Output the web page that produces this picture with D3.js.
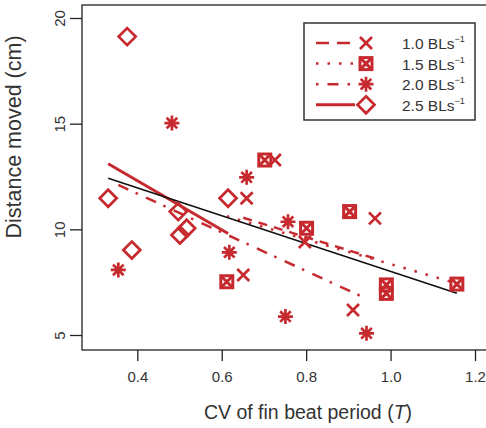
<!DOCTYPE html>
<html>
  <head>
    <script src="https://d3js.org/d3.v7.min.js" charset="utf-8"></script>
    <meta charset="UTF-8">
    <title>fin beat CV vs distance</title>
    <style>
      body { margin: 0; background: #fff; }
      text { font-family: "Liberation Sans", Arial, sans-serif; fill: #333; }
    </style>
  </head>
  <body>
    <svg class="chart"></svg>
    <script type="text/javascript">

     var width = 486,
         height = 428,
         red = "#c62a2f";

     // points, one array per swimming speed
     var speeds = ["1.0", "1.5", "2.0", "2.5"];
     var pts10 = [[0.726, 13.28], [0.659, 11.47], [0.963, 10.52], [0.797, 9.40], [0.651, 7.84], [0.911, 6.18]];
     var pts15 = [[0.702, 13.28], [0.903, 10.84], [0.801, 10.05], [0.612, 7.52], [0.990, 7.37], [0.990, 6.97], [1.157, 7.41]];
     var pts20 = [[0.482, 15.03], [0.355, 8.08], [0.659, 12.46], [0.618, 8.91], [0.757, 10.36], [0.751, 5.87], [0.943, 5.08]];
     var pts25 = [[0.376, 19.12], [0.331, 11.47], [0.387, 9.02], [0.497, 10.84], [0.501, 9.73], [0.517, 10.05], [0.615, 11.47]];

     // fitted line end points
     var fit10 = [[0.651, 10.55], [0.963, 8.62]];
     var fit15 = [[0.612, 10.62], [1.157, 7.44]];
     var fit20 = [[0.355, 12.10], [0.943, 6.72]];
     var fit25 = [[0.331, 13.10], [0.615, 9.80]];
     var fitAll = [[0.331, 12.42], [1.157, 6.98]];

     var xTicks = [0.4, 0.6, 0.8, 1.0, 1.2];
     var yTicks = [5, 10, 15, 20];

     var chart = d3.select(".chart")
                   .attr("width", width)
                   .attr("height", height);

     var x = d3.scaleLinear().domain([0.4, 1.2]).range([137.3, 475]);
     var y = d3.scaleLinear().domain([5, 20]).range([335, 18]);

     var line = d3.line()
                  .x(function(d) { return x(d[0]); })
                  .y(function(d) { return y(d[1]); });

     // frame
     chart.append("rect")
          .attr("x", 82).attr("y", 5)
          .attr("width", 420).attr("height", 345)
          .attr("fill", "none")
          .attr("stroke", "#222")
          .attr("stroke-width", 1.3);

     var xAxis = chart.append("g")
                      .attr("transform", "translate(0,350)")
                      .call(d3.axisBottom(x).tickValues(xTicks)
                              .tickFormat(d3.format(".1f"))
                              .tickSize(11).tickPadding(10));
     xAxis.select(".domain").remove();
     xAxis.selectAll("line").attr("stroke", "#222").attr("stroke-width", 1.3);
     xAxis.selectAll("text").attr("font-size", 15).style("fill", "#333");

     var yAxis = chart.append("g")
                      .attr("transform", "translate(82,0)")
                      .call(d3.axisLeft(y).tickValues(yTicks).tickSize(12));
     yAxis.select(".domain").remove();
     yAxis.selectAll("line").attr("stroke", "#222").attr("stroke-width", 1.3);
     yAxis.selectAll("text")
          .attr("font-size", 15)
          .style("fill", "#333")
          .attr("transform", "rotate(-90)")
          .attr("x", 0).attr("y", -17).attr("dy", 0)
          .style("text-anchor", "middle");

     chart.append("text")
          .attr("transform", "translate(21,137) rotate(-90)")
          .attr("text-anchor", "middle")
          .attr("font-size", 21.5)
          .text("Distance moved (cm)");

     var xt = chart.append("text")
                   .attr("x", 308).attr("y", 419)
                   .attr("text-anchor", "middle")
                   .attr("font-size", 19.5)
                   .text("CV of fin beat period (");
     xt.append("tspan").attr("font-style", "italic").text("T");
     xt.append("tspan").text(")");

     // fitted lines
     var fits = [fit10, fit15, fit20, fit25];
     var dashes = ["9,7", "2.5,9", "11,8,2.5,9", null];
     var legendDashes = ["13,8", "2.5,9", "2.5,9,11,9", null];

     var fitg = chart.append("g").attr("class", "fits");
     fits.forEach(function(f, i) {
         fitg.append("path")
             .datum(f)
             .attr("d", line)
             .attr("fill", "none")
             .attr("stroke", red)
             .attr("stroke-width", i == 3 ? 3 : 2.5)
             .attr("stroke-dasharray", dashes[i]);
     });
     fitg.append("path")
         .datum(fitAll)
         .attr("d", line)
         .attr("fill", "none")
         .attr("stroke", "#111")
         .attr("stroke-width", 1.6);

     // marker shapes
     function drawMarker(g, type) {
         g.attr("fill", "none").attr("stroke", red).attr("stroke-width", 2.7);
         if (type == 0) {
             g.append("path").attr("d", "M-6,-6L6,6M-6,6L6,-6");
         } else if (type == 1) {
             g.append("rect").attr("x", -6).attr("y", -6).attr("width", 12).attr("height", 12)
              .attr("stroke-width", 3);
             g.append("path").attr("d", "M-6,-6L6,6M-6,6L6,-6").attr("stroke-width", 3);
         } else if (type == 2) {
             g.append("path").attr("d", "M-7.5,0H7.5M0,-7.5V7.5M-5.3,-5.3L5.3,5.3M-5.3,5.3L5.3,-5.3");
         } else {
             g.append("path").attr("d", "M0,-8.5L8.5,0L0,8.5L-8.5,0Z");
         }
     }

     var allPts = [pts10, pts15, pts20, pts25];
     var ptg = chart.append("g").attr("class", "points");
     allPts.forEach(function(pts, i) {
         ptg.selectAll("g.s" + i)
            .data(pts)
            .enter().append("g")
            .attr("class", "s" + i)
            .attr("transform", function(d) { return "translate(" + x(d[0]) + "," + y(d[1]) + ")"; })
            .each(function() { drawMarker(d3.select(this), i); });
     });

     // legend
     var leg = chart.append("g").attr("class", "legend");
     leg.append("rect")
        .attr("x", 304).attr("y", 23)
        .attr("width", 171).attr("height", 97)
        .attr("fill", "#fff")
        .attr("stroke", "#333")
        .attr("stroke-width", 1.5);

     var rows = leg.selectAll("g.row")
                   .data(speeds)
                   .enter().append("g")
                   .attr("class", "row")
                   .attr("transform", function(d, i) { return "translate(0," + (43 + i * 20.6) + ")"; });

     rows.append("line")
         .attr("x1", 316).attr("x2", 355)
         .attr("stroke", red)
         .attr("stroke-width", function(d, i) { return i == 3 ? 3 : 2.5; })
         .attr("stroke-dasharray", function(d, i) { return legendDashes[i]; });

     rows.append("g")
         .attr("transform", "translate(366,0)")
         .each(function(d, i) { drawMarker(d3.select(this), i); });

     var lt = rows.append("text")
                  .attr("x", 402).attr("y", 6)
                  .attr("font-size", 15.5)
                  .text(function(d) { return d + " BLs"; });
     lt.append("tspan")
       .attr("font-size", 9)
       .attr("dy", -7)
       .text("\u22121");

    </script>
  </body>
</html>
